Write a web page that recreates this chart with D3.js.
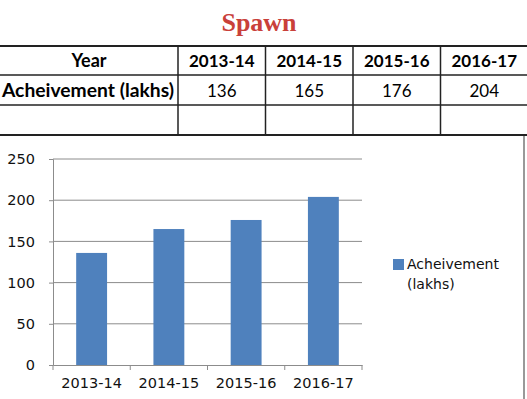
<!DOCTYPE html>
<html>
<head>
<meta charset="utf-8">
<title>Spawn</title>
<script src="https://d3js.org/d3.v7.min.js"></script>
<style>
  body { margin: 0; background: #fff; }
  svg { display: block; }
  .tbl text { font-family: Lato, "Liberation Sans", sans-serif; fill: #000; }
  .axis text { font-family: "DejaVu Sans", Verdana, sans-serif; font-size: 14.5px; fill: #111; }
</style>
</head>
<body>
<div id="holder"></div>
<script>
// data
const years = ["2013-14", "2014-15", "2015-16", "2016-17"];
const achievement = [136, 165, 176, 204];
const yTicks = [0, 50, 100, 150, 200, 250];
const rowLabel = "Acheivement (lakhs)";
const seriesName = ["Acheivement", "(lakhs)"];

const w = 527, h = 399;
const svg = d3.select("#holder").append("svg")
  .attr("width", w).attr("height", h);

// title
svg.append("text")
  .attr("x", 259).attr("y", 31)
  .attr("text-anchor", "middle")
  .style("font-family", "'Liberation Serif', serif")
  .style("font-size", "26px")
  .style("font-weight", "bold")
  .style("fill", "#c9403a")
  .text("Spawn");

// table
const colX = d3.scaleBand().domain(years).range([178, 178 + 87.5 * 4]);
const rowY = [46, 75, 105, 135];
const tbl = svg.append("g").attr("class", "tbl");

rowY.forEach((y, i) => {
  tbl.append("line")
    .attr("x1", 0).attr("x2", w)
    .attr("y1", y).attr("y2", y)
    .attr("stroke", "#222")
    .attr("stroke-width", (i == 0 || i == 3) ? 2 : 1.5);
});
years.forEach(d => {
  tbl.append("line")
    .attr("x1", colX(d)).attr("x2", colX(d))
    .attr("y1", rowY[0]).attr("y2", rowY[3])
    .attr("stroke", "#222").attr("stroke-width", 1.5);
});

tbl.append("text").attr("x", 89).attr("y", 67)
  .attr("text-anchor", "middle")
  .style("font-size", "18px").style("font-weight", "bold")
  .text("Year");
tbl.append("text").attr("x", 2).attr("y", 97)
  .style("font-size", "18px").style("font-weight", "bold")
  .attr("textLength", 172).attr("lengthAdjust", "spacingAndGlyphs")
  .text(rowLabel);

tbl.selectAll(".hd").data(years).enter().append("text")
  .attr("x", d => colX(d) + colX.bandwidth() / 2)
  .attr("y", 67)
  .attr("text-anchor", "middle")
  .style("font-size", "17px").style("font-weight", "bold")
  .text(d => d);

tbl.selectAll(".val").data(achievement).enter().append("text")
  .attr("x", (d, i) => colX(years[i]) + colX.bandwidth() / 2)
  .attr("y", 97)
  .attr("text-anchor", "middle")
  .style("font-size", "17px")
  .text(d => d);

// chart frame line on right
svg.append("line")
  .attr("x1", 524).attr("x2", 524)
  .attr("y1", 136).attr("y2", h)
  .attr("stroke", "#999").attr("stroke-width", 2);

// scales
const xScale = d3.scaleBand()
  .domain(years)
  .range([53, 362])
  .paddingInner(0.6)
  .paddingOuter(0.3);
const yScale = d3.scaleLinear()
  .domain([0, 250])
  .range([365, 159]);

// gridlines
svg.append("g").selectAll("line")
  .data(yTicks.filter(d => d > 0)).enter().append("line")
  .attr("x1", 53).attr("x2", 362)
  .attr("y1", d => yScale(d)).attr("y2", d => yScale(d))
  .attr("stroke", "#8c8c8c").attr("stroke-width", 1);

// bars
svg.append("g").selectAll("rect")
  .data(achievement).enter().append("rect")
  .attr("x", (d, i) => xScale(years[i]))
  .attr("y", d => yScale(d))
  .attr("width", xScale.bandwidth())
  .attr("height", d => yScale(0) - yScale(d))
  .attr("fill", "#4f81bd");

// y axis
const yAxis = d3.axisLeft(yScale).tickValues(yTicks).tickSize(4).tickPadding(14);
const gy = svg.append("g").attr("class", "axis")
  .attr("transform", "translate(53,0)")
  .call(yAxis);
gy.selectAll("line, path").attr("stroke", "#8c8c8c");

// x axis
const xAxis = d3.axisBottom(xScale).tickSize(0).tickPadding(13);
const gx = svg.append("g").attr("class", "axis")
  .attr("transform", "translate(0,365)")
  .call(xAxis);
gx.select("path").attr("stroke", "#8c8c8c");
const step = xScale.step();
gx.selectAll(".sep").data(d3.range(years.length + 1)).enter().append("line")
  .attr("x1", i => 53 + i * step).attr("x2", i => 53 + i * step)
  .attr("y1", 0).attr("y2", 5)
  .attr("stroke", "#8c8c8c");

// legend
const lg = svg.append("g").attr("transform", "translate(393,259)");
lg.append("rect").attr("width", 11).attr("height", 11).attr("fill", "#4f81bd");
lg.selectAll("text").data(seriesName).enter().append("text")
  .attr("x", 14)
  .attr("y", (d, i) => 10 + i * 20)
  .style("font-family", "'DejaVu Sans', Verdana, sans-serif")
  .style("font-size", "14px")
  .style("fill", "#111")
  .text(d => d);
</script>
</body>
</html>
